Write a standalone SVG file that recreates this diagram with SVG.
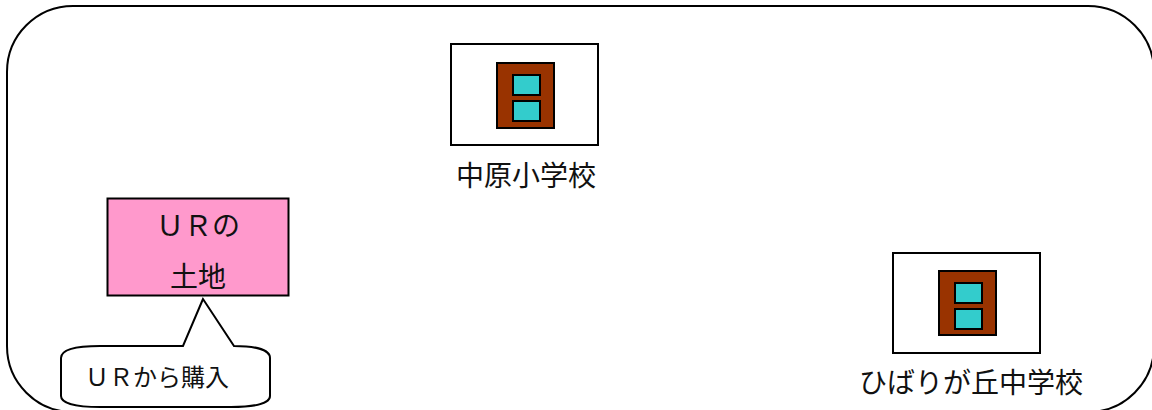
<svg xmlns="http://www.w3.org/2000/svg" width="1152" height="410" viewBox="0 0 1152 410">
<style>
text{font-family:"Liberation Sans","Noto Sans CJK JP",sans-serif;fill:#111;text-anchor:middle}
.l{font-size:28px}
.s{font-size:24px}
.o{fill:#fff;stroke:#000;stroke-width:2}
.b{fill:#993300;stroke:#000;stroke-width:2}
.w{fill:#33cccc;stroke:#000;stroke-width:2}
</style>
<rect width="1152" height="410" fill="#fff"/>
<g id="area"><rect class="o" x="7" y="6" width="1147" height="406" rx="66" ry="66"/></g>
<g id="school-nakahara">
<rect class="o" x="451" y="44" width="147" height="101"/>
<rect class="b" x="497" y="63" width="57" height="65"/>
<rect class="w" x="513" y="75" width="27" height="20"/>
<rect class="w" x="513" y="101" width="27" height="20"/>
<text class="l" x="526" y="186">中原小学校</text>
</g>
<g id="school-hibarigaoka">
<rect class="o" x="893" y="253" width="147" height="100"/>
<rect class="b" x="939" y="271" width="57" height="64"/>
<rect class="w" x="955" y="283" width="27" height="20"/>
<rect class="w" x="955" y="309" width="27" height="20"/>
<text class="l" x="971" y="393">ひばりが丘中学校</text>
</g>
<g id="ur-land">
<rect x="107.500" y="198.500" width="181" height="97" fill="#ff99cc" stroke="#000" stroke-width="2"/>
<text class="l" x="198" y="236">ＵＲの</text>
<text class="l" x="198" y="287">土地</text>
</g>
<g id="callout">
<path class="o" d="M203 299L183 346H100C75 346 61 350 61 358V396C61 403 75 407 100 407H231C256 407 270 403 270 396V358C270 350 256 346 234 346Z"/>
<text class="s" x="157" y="386">ＵＲから購入</text>
</g>
</svg>
